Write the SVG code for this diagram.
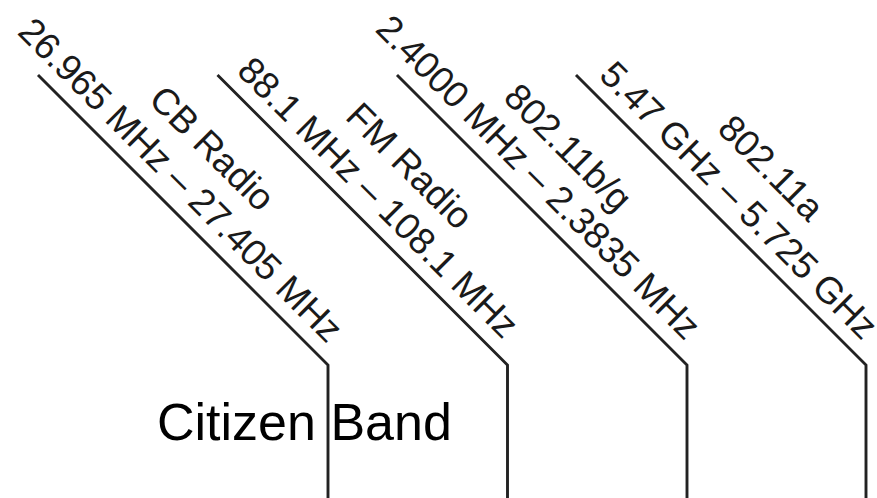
<svg xmlns="http://www.w3.org/2000/svg" width="877" height="498" viewBox="0 0 877 498">
<style>
.lbl{font-family:"Liberation Sans",Arial,sans-serif;font-size:37px;fill:#1a1a1a;text-anchor:middle}
.ln{fill:none;stroke:#222;stroke-width:2.9;stroke-linejoin:miter}
.big{font-family:"Liberation Sans",Arial,sans-serif;font-size:52px;fill:#000}
</style>
<rect width="877" height="498" fill="#fff"/>
<g id="connectors">
<polyline class="ln" points="38,75 328,365 328,498"/>
<polyline class="ln" points="217.5,75 507.5,365 507.5,498"/>
<polyline class="ln" points="397,75 687,365 687,498"/>
<polyline class="ln" points="576,75 866,365 866,498"/>
</g>
<g id="cb">
<text class="lbl" transform="translate(203.3,157.3) rotate(45)">CB Radio</text>
<text class="lbl" transform="translate(171.8,188.8) rotate(45)">26.965 MHz – 27.405 MHz</text>
</g>
<g id="fm">
<text class="lbl" transform="translate(400.8,174.8) rotate(45)">FM Radio</text>
<text class="lbl" transform="translate(369.3,206.3) rotate(45)">88.1 MHz – 108.1 MHz</text>
</g>
<g id="wifi-bg">
<text class="lbl" transform="translate(559.3,156.3) rotate(45)">802.11b/g</text>
<text class="lbl" transform="translate(529.5,186.1) rotate(45)">2.4000 MHz – 2.3835 MHz</text>
</g>
<g id="wifi-a">
<text class="lbl" transform="translate(762.3,176.8) rotate(45)">802.11a</text>
<text class="lbl" transform="translate(730,209) rotate(45)">5.47 GHz – 5.725 GHz</text>
</g>
<g id="citizen-band">
<text class="big" x="157" y="440">Citizen Band</text>
</g>
</svg>
